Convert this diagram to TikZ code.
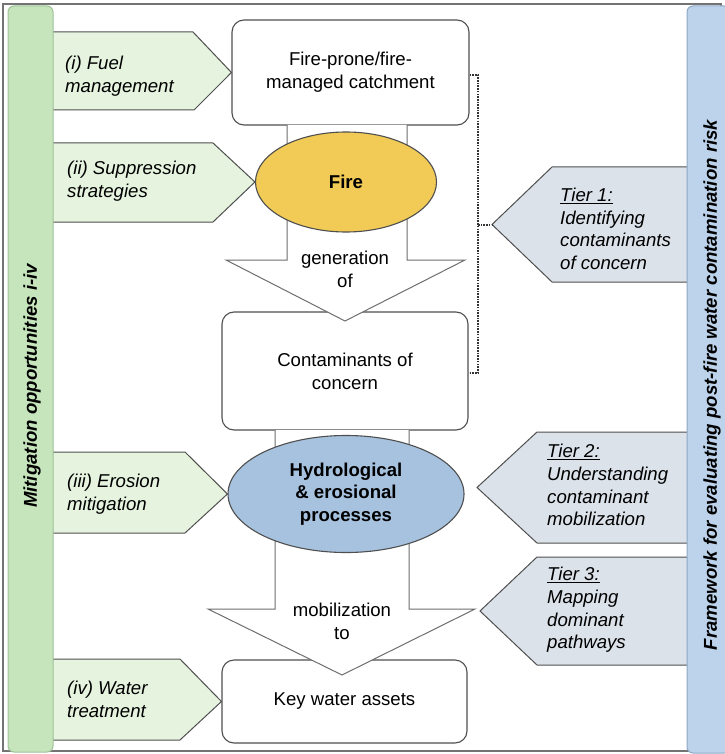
\documentclass[tikz,border=0pt]{standalone}
\usepackage{fontspec}
\setmainfont{Liberation Sans}
\usetikzlibrary{shapes.geometric}

\definecolor{barGreen}{HTML}{C6E5BC}
\definecolor{barGreenLine}{HTML}{9FC197}
\definecolor{tabGreen}{HTML}{E5F3DF}
\definecolor{barBlue}{HTML}{BCD3EB}
\definecolor{barBlueLine}{HTML}{8FA9C4}
\definecolor{tabBlue}{HTML}{DCE2EA}
\definecolor{fireFill}{HTML}{F1CB56}
\definecolor{hydroFill}{HTML}{A6C2DF}
\definecolor{edge}{HTML}{4F4F4F}
\definecolor{shaft}{HTML}{6E6E6E}

\tikzset{
  base/.style={font=\fontsize{18.6}{22.7}\selectfont},
  stagebox/.style={base, draw=edge, line width=1.1pt, fill=white,
    rounded corners=12pt, align=center, inner sep=0pt},
  blob/.style={base, ellipse, draw=edge, line width=1.1pt, inner sep=0pt,
    align=center, font=\fontsize{18.6}{22.2}\selectfont\bfseries},
  label/.style={base, inner sep=0pt, align=center},
  tabtext/.style={base, inner sep=0pt, align=left, anchor=west,
    font=\fontsize{18.6}{22.7}\selectfont\itshape},
  greentab/.style={fill=tabGreen, draw=edge, line width=1pt},
  bluetab/.style={fill=tabBlue, draw=edge, line width=1pt},
  bigarrow/.style={draw=shaft, line width=1pt},
  bracket/.style={draw=black!80, line width=2pt, dash pattern=on 1.6pt off 1.1pt},
  sidetext/.style={base, inner sep=0pt, rotate=90,
    font=\fontsize{18.6}{22}\selectfont\bfseries\itshape},
}

\begin{document}
\begin{tikzpicture}[x=1pt,y=-1pt]
\useasboundingbox (0,0) rectangle (724,754);
\fill[white] (0,0) rectangle (724,754);

% outer frame
\draw[draw=black!55, line width=1.1pt] (3,4) rectangle (721,751);

% stage boxes
\node[stagebox, minimum width=237pt, minimum height=105pt] (catch) at (350.5,72.5)
  {Fire-prone/fire-\\managed catchment};
\node[stagebox, minimum width=246pt, minimum height=118pt] (cont) at (345,371)
  {Contaminants of\\concern};
\node[stagebox, minimum width=245pt, minimum height=83pt] (assets) at (344.5,701.5)
  {Key water assets};

% broad arrow: catchment -> contaminants
\coordinate (a1l) at (287,125);
\coordinate (a1r) at (407,125);
\coordinate (a1tip) at (345,321);
\fill[white] (a1l) -- (287,260) -- (226,260) -- (a1tip) -- (465,260) -- (407,260) -- (a1r) -- cycle;
\draw[bigarrow] (a1l) -- (287,260) -- (226,260) -- (a1tip) -- (465,260) -- (407,260) -- (a1r);
\node[label] (gen) at (345,269.5) {generation\\of};

% fire
\node[blob, fill=fireFill, minimum width=181pt, minimum height=100pt] (fire) at (346,182) {Fire};

% broad arrow: contaminants -> key water assets
\coordinate (a2l) at (275,430);
\coordinate (a2r) at (409,430);
\coordinate (a2tip) at (342,675);
\fill[white] (a2l) -- (275,609) -- (208,609) -- (a2tip) -- (475,609) -- (409,609) -- (a2r) -- cycle;
\draw[bigarrow] (a2l) -- (275,609) -- (208,609) -- (a2tip) -- (475,609) -- (409,609) -- (a2r);
\node[label] (mob) at (342,621.5) {mobilization\\to};

% hydrological processes
\node[blob, fill=hydroFill, minimum width=236pt, minimum height=117pt] (hydro) at (346,494)
  {Hydrological\\\& erosional\\processes};

% mitigation tabs
\draw[greentab] (53,32) -- (193,32) -- (catch.west) -- (194,110) -- (53,110);
\draw[greentab] (53,143) -- (213,143) -- (fire.west) -- (213,222) -- (53,222);
\draw[greentab] (53,452) -- (185,452) -- (hydro.west) -- (185,533) -- (53,533);
\draw[greentab] (53,659) -- (180,659) -- (assets.west) -- (180,740) -- (53,740);
\node[tabtext] (m1) at (65,76) {(i) Fuel\\management};
\node[tabtext] (m2) at (67,181) {(ii) Suppression\\strategies};
\node[tabtext] (m3) at (67,494) {(iii) Erosion\\mitigation};
\node[tabtext] (m4) at (67,699.5) {(iv) Water\\treatment};

% tier tabs
\coordinate (t1tip) at (492,224.5);
\coordinate (t2tip) at (477,487.5);
\coordinate (t3tip) at (480,611);
\draw[bluetab] (687,167) -- (552,167) -- (t1tip) -- (552,282) -- (687,282);
\draw[bluetab] (687,432) -- (537,432) -- (t2tip) -- (537,543) -- (687,543);
\draw[bluetab] (687,557) -- (537,557) -- (t3tip) -- (537,665) -- (687,665);
\node[tabtext] (tier1) at (560,229) {\underline{Tier 1:}\\Identifying\\contaminants\\of concern};
\node[tabtext] (tier2) at (547,485) {\underline{Tier 2:}\\Understanding\\contaminant\\mobilization};
\node[tabtext] (tier3) at (547,610) {\underline{Tier 3:}\\Mapping\\dominant\\pathways};

% dotted bracket grouping tier 1
\coordinate (bk) at (478,224.5);
\draw[bracket] (catch.east |- 0,75) -- (478,75) -- (478,373) -- (cont.east |- 0,373);
\draw[bracket] (bk) -- (t1tip);

% side bars
\draw[fill=barGreen, draw=barGreenLine, line width=1pt, rounded corners=6pt] (8,6) rectangle (53,752);
\node[sidetext] (mitig) at (32,386) {Mitigation opportunities i-iv};
\draw[fill=barBlue, draw=barBlueLine, line width=1pt, rounded corners=6pt] (687,6) rectangle (730,753);
\node[sidetext] (frame) at (712,385) {Framework for evaluating post-fire water contamination risk};
\end{tikzpicture}
\end{document}
